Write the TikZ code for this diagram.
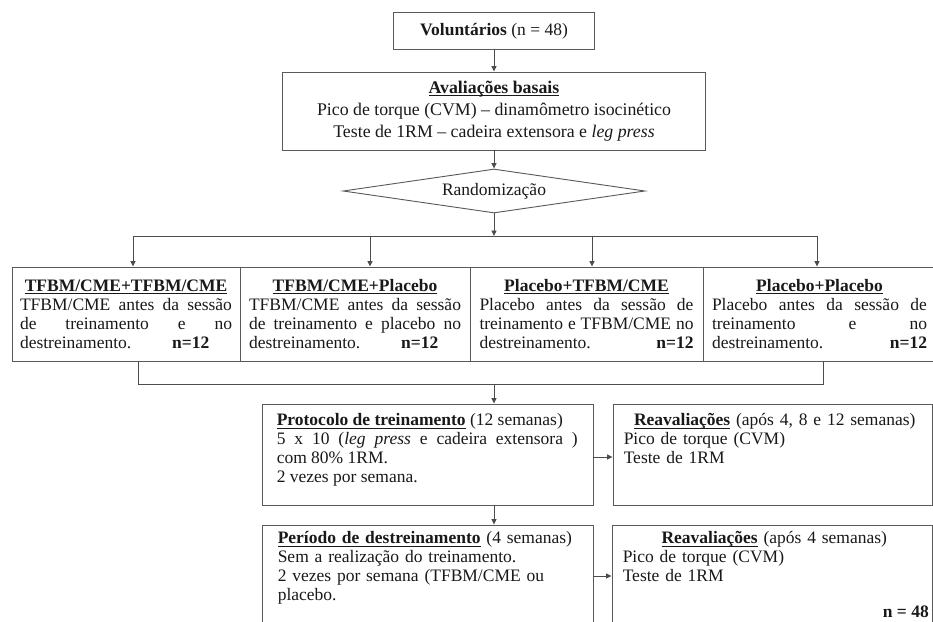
\documentclass[tikz,border=0pt]{standalone}
\usepackage{fontspec}
\setmainfont{Liberation Serif}
\usetikzlibrary{arrows.meta,shapes.geometric}
\newcommand\fsz{\fontsize{17.5}{19}\selectfont}
\newcommand\ulb[1]{\textbf{\setbox0\hbox{#1}\rlap{\rule[-2.8pt]{\wd0}{1.1pt}}\box0}}
\begin{document}
\begin{tikzpicture}[x=1pt,y=-1pt,
  box/.style={draw=black!65, line width=0.9pt, rectangle, inner sep=0pt},
  arr/.style={draw=black!70, line width=0.9pt, -{Triangle[length=5.5pt,width=5pt]}},
  conn/.style={draw=black!70, line width=0.9pt},
  every node/.style={font=\fsz, text=black!90},
  txt/.style={inner sep=0pt, anchor=north west},
  grp/.style={box, minimum height=94pt, align=justify},
  ]
\useasboundingbox (0,0) rectangle (933,621);
\clip (0,0) rectangle (933,621);
\fill[white] (0,0) rectangle (933,621);

% top
\node[box, minimum width=201pt, minimum height=37pt] (vol) at (494,31) {\textbf{Voluntários} (n = 48)};
\node[box, minimum width=423pt, minimum height=78pt, align=center, font=\fontsize{17.8}{22}\selectfont] (aval) at (494,111)
  {\ulb{Avaliações basais}\\Pico de torque (CVM) – dinamômetro isocinético\\Teste de 1RM – cadeira extensora e \textit{leg press}};
\node[draw=black!65, line width=0.9pt, diamond, aspect=6.86, minimum width=302pt, minimum height=44pt, inner sep=0pt] (rand) at (494,191) {Randomização};

% groups
\node[grp, minimum width=228pt, text width=212pt] (b1) at (126,314)
  {{\centering\ulb{TFBM/CME+TFBM/CME}\par}TFBM/CME antes da sessão\linebreak de treinamento e no\linebreak destreinamento.\hfill\textbf{n=12}\hspace*{1.3em}};
\node[grp, minimum width=230pt, text width=212pt] (b2) at (355,314)
  {{\centering\ulb{TFBM/CME+Placebo}\par}TFBM/CME antes da sessão\linebreak de treinamento e placebo no\linebreak destreinamento.\hfill\textbf{n=12}\hspace*{1.3em}};
\node[grp, minimum width=233pt, text width=214pt] (b3) at (586.5,314)
  {{\centering\ulb{Placebo+TFBM/CME}\par}Placebo antes da sessão de\linebreak treinamento e TFBM/CME no\linebreak destreinamento.\hfill\textbf{n=12}};
\node[grp, minimum width=233pt, text width=215pt] (b4) at (819.5,314)
  {{\centering\ulb{Placebo+Placebo}\par}Placebo antes da sessão de\linebreak treinamento e no\linebreak destreinamento.\hfill\textbf{n=12}};

% lower boxes
\node[box, minimum width=331pt, minimum height=101pt] (prot) at (427.5,454.5) {};
\node[box, minimum width=319pt, minimum height=101pt] (reav1) at (772.5,454.5) {};
\node[box, minimum width=331pt, minimum height=115pt] (dest) at (427.5,582.5) {};
\node[box, minimum width=320pt, minimum height=115pt] (reav2) at (772,582.5) {};

\node[txt, text width=301pt, align=justify] (tprot) at ([shift={(15,10)}]prot.north west)
  {\ulb{Protocolo de treinamento} (12 semanas)\par
   5 x 10 (\textit{leg press} e cadeira extensora )\linebreak com 80\% 1RM.\par
   2 vezes por semana.};
\node[txt, text width=302pt, align=left] (treav1) at ([shift={(11,10)}]reav1.north west)
  {{\centering\ulb{Reavaliações} (após 4, 8 e 12 semanas)\par}Pico de torque (CVM)\par Teste de 1RM};
\node[txt, text width=300pt, align=left] (tdest) at ([shift={(16,7)}]dest.north west)
  {\ulb{Período de destreinamento} (4 semanas)\par Sem a realização do treinamento.\par 2 vezes por semana (TFBM/CME ou\par placebo.};
\node[txt, text width=303pt, align=left] (treav2) at ([shift={(11,7)}]reav2.north west)
  {{\centering\ulb{Reavaliações} (após 4 semanas)\par}Pico de torque (CVM)\par Teste de 1RM};
\node[anchor=base east, inner sep=0pt, font=\fsz\bfseries] (n48) at (929,617) {n = 48};

% connectors
\coordinate (sL) at (133,236);
\coordinate (s2) at (370,236);
\coordinate (sM) at (494,236);
\coordinate (s3) at (592,236);
\coordinate (sR) at (817,236);
\coordinate (jL) at (138,384);
\coordinate (jM) at (494,384);
\coordinate (jR) at (823,384);
\coordinate (ya) at (600,457);
\coordinate (yb) at (600,576);

\draw[arr] (vol.south) -- (aval.north);
\draw[arr] (aval.south) -- (rand.north);
\draw[arr] (rand.south) -- (sM);
\draw[conn] (sL) -- (sR);
\draw[arr] (sL) -- (sL |- b1.north);
\draw[arr] (s2) -- (s2 |- b2.north);
\draw[arr] (s3) -- (s3 |- b3.north);
\draw[arr] (sR) -- (sR |- b4.north);
\draw[conn] (jL |- b1.south) -- (jL) -- (jR) -- (jR |- b4.south);
\draw[arr] (jM) -- (jM |- prot.north);
\draw[arr] (prot.south -| jM) -- (dest.north -| jM);
\draw[arr] (prot.east |- ya) -- (reav1.west |- ya);
\draw[arr] (dest.east |- yb) -- (reav2.west |- yb);
\end{tikzpicture}
\end{document}
